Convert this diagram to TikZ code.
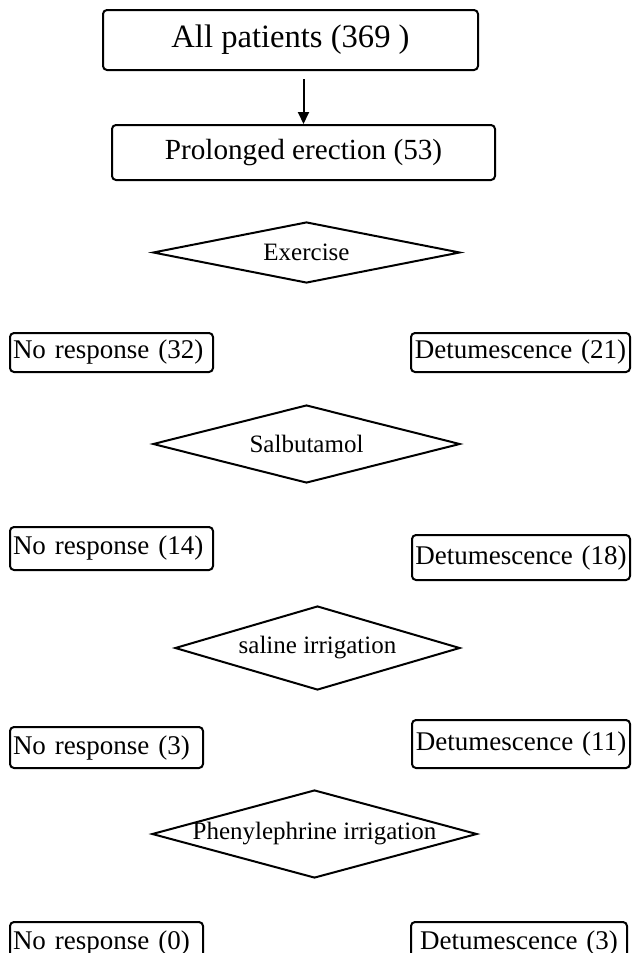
\documentclass[tikz,border=0pt]{standalone}
\usepackage{fontspec}
\setmainfont{Liberation Serif}
\usetikzlibrary{arrows.meta, shapes.geometric}

\begin{document}
\begin{tikzpicture}[x=0.5pt, y=-0.5pt,
        box/.style={draw, line width=1pt, rounded corners=2pt, inner sep=0pt},
        sidebox/.style={box, inner xsep=1.5pt, align=left, font=\fontsize{13.5}{15}\selectfont},
        decision/.style={draw, diamond, line width=1pt, inner sep=0pt, font=\fontsize{12.5}{15}\selectfont}]
        \useasboundingbox (0,0) rectangle (638,953);
        \clip (0,0) rectangle (638,953);

        \node[box, minimum width=187.5pt, minimum height=30pt, font=\fontsize{16.3}{18}\selectfont] (all) at (290.5,40) {All patients (369 )};
        \node[box, minimum width=191.5pt, minimum height=27.5pt, font=\fontsize{14.6}{17}\selectfont] (pe) at (303.5,152.5) {Prolonged erection (53)};

        \draw[-{Triangle[length=6pt, width=5.5pt]}, line width=1pt] ([yshift=-4pt]all.south -| pe.north) -- (pe.north);

        % exercise
        \node[decision, minimum width=153.5pt, minimum height=30.5pt] (ex) at (306.5,252.5) {\makebox[0pt]{Exercise}};
        \node[sidebox, text width=98.5pt, minimum height=19.5pt] (nr1) at (111.5,352.5) {No response (32)};
        \node[sidebox, text width=106.5pt, minimum height=19.5pt, align=center] (dt1) at (520.5,352.5) {Detumescence (21)};

        % salbutamol
        \node[decision, minimum width=153.5pt, minimum height=39pt] (sal) at (306.5,444) {\makebox[0pt]{Salbutamol}};
        \node[sidebox, text width=98.5pt, minimum height=21.5pt] (nr2) at (111.5,548.5) {No response (14)};
        \node[sidebox, text width=106pt, minimum height=22.5pt, align=center] (dt2) at (521,557.5) {Detumescence (18)};

        % saline
        \node[decision, minimum width=142.5pt, minimum height=42pt] (sir) at (317.5,648) {\makebox[0pt]{saline irrigation}};
        \node[sidebox, text width=93.5pt, minimum height=20.5pt] (nr3) at (106.5,747.5) {No response (3)};
        \node[sidebox, text width=106pt, minimum height=24pt, align=center] (dt3) at (521,744) {Detumescence (11)};

        % phenylephrine
        \node[decision, minimum width=162.5pt, minimum height=44pt] (phe) at (314.5,834) {\makebox[0pt]{Phenylephrine irrigation}};
        \node[sidebox, text width=93.5pt, minimum height=21pt] (nr4) at (106.5,943) {No response (0)};
        \node[sidebox, text width=105pt, minimum height=21pt, align=center] (dt4) at (519,943) {Detumescence (3)};

\end{tikzpicture}
\end{document}
